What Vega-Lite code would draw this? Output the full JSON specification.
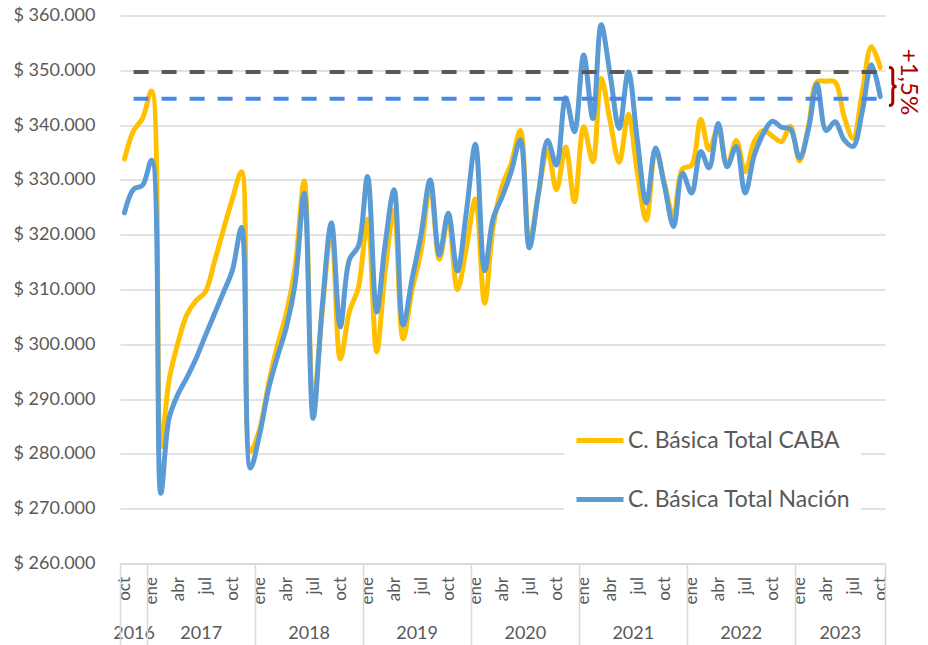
{
  "$schema": "https://vega.github.io/schema/vega-lite/v6.json",
  "width": 765,
  "height": 548,
  "autosize": {"type": "none"},
  "padding": {"left": 120, "top": 15.5, "right": 43, "bottom": 81.5},
  "background": "white",
  "config": {"view": {"stroke": null}, "font": "Lato"},
  "datasets": {
    "cbt": [
      {"fecha": "2016-10-16", "caba": 333800, "nacion": 324000},
      {"fecha": "2016-11-16", "caba": 339000, "nacion": 328300},
      {"fecha": "2016-12-16", "caba": 341200, "nacion": 329000},
      {"fecha": "2017-01-16", "caba": 346200, "nacion": 333600},
      {"fecha": "2017-02-16", "caba": 281300, "nacion": 272800},
      {"fecha": "2017-03-16", "caba": 293500, "nacion": 286500},
      {"fecha": "2017-04-16", "caba": 300500, "nacion": 291000},
      {"fecha": "2017-05-16", "caba": 305500, "nacion": 294000},
      {"fecha": "2017-06-16", "caba": 308000, "nacion": 297500},
      {"fecha": "2017-07-16", "caba": 309500, "nacion": 301500},
      {"fecha": "2017-08-16", "caba": 315000, "nacion": 305500},
      {"fecha": "2017-09-16", "caba": 321000, "nacion": 309500},
      {"fecha": "2017-10-16", "caba": 326500, "nacion": 313500},
      {"fecha": "2017-11-16", "caba": 331500, "nacion": 321300},
      {"fecha": "2017-12-16", "caba": 280500, "nacion": 277400},
      {"fecha": "2018-01-16", "caba": 284500, "nacion": 283500},
      {"fecha": "2018-02-16", "caba": 293000, "nacion": 292000},
      {"fecha": "2018-03-16", "caba": 299500, "nacion": 297500},
      {"fecha": "2018-04-16", "caba": 305500, "nacion": 303000},
      {"fecha": "2018-05-16", "caba": 314000, "nacion": 311000},
      {"fecha": "2018-06-16", "caba": 329800, "nacion": 327500},
      {"fecha": "2018-07-16", "caba": 289000, "nacion": 286500},
      {"fecha": "2018-08-16", "caba": 306000, "nacion": 307000},
      {"fecha": "2018-09-16", "caba": 321000, "nacion": 322200},
      {"fecha": "2018-10-16", "caba": 297300, "nacion": 303200},
      {"fecha": "2018-11-16", "caba": 306000, "nacion": 315500},
      {"fecha": "2018-12-16", "caba": 310300, "nacion": 317900},
      {"fecha": "2019-01-16", "caba": 322800, "nacion": 330600},
      {"fecha": "2019-02-16", "caba": 298600, "nacion": 305900},
      {"fecha": "2019-03-16", "caba": 313000, "nacion": 318000},
      {"fecha": "2019-04-16", "caba": 324500, "nacion": 328200},
      {"fecha": "2019-05-16", "caba": 301000, "nacion": 303500},
      {"fecha": "2019-06-16", "caba": 310000, "nacion": 312000},
      {"fecha": "2019-07-16", "caba": 317000, "nacion": 320000},
      {"fecha": "2019-08-16", "caba": 329000, "nacion": 330000},
      {"fecha": "2019-09-16", "caba": 315500, "nacion": 316300},
      {"fecha": "2019-10-16", "caba": 323000, "nacion": 323900},
      {"fecha": "2019-11-16", "caba": 310000, "nacion": 313400},
      {"fecha": "2019-12-16", "caba": 317500, "nacion": 324000},
      {"fecha": "2020-01-16", "caba": 326500, "nacion": 336500},
      {"fecha": "2020-02-16", "caba": 307500, "nacion": 313400},
      {"fecha": "2020-03-16", "caba": 321500, "nacion": 323000},
      {"fecha": "2020-04-16", "caba": 329000, "nacion": 327000},
      {"fecha": "2020-05-16", "caba": 333000, "nacion": 331500},
      {"fecha": "2020-06-16", "caba": 339000, "nacion": 337300},
      {"fecha": "2020-07-16", "caba": 318500, "nacion": 317600},
      {"fecha": "2020-08-16", "caba": 327500, "nacion": 327500},
      {"fecha": "2020-09-16", "caba": 335500, "nacion": 337200},
      {"fecha": "2020-10-16", "caba": 328200, "nacion": 332700},
      {"fecha": "2020-11-16", "caba": 336000, "nacion": 345000},
      {"fecha": "2020-12-16", "caba": 326000, "nacion": 338800},
      {"fecha": "2021-01-16", "caba": 339700, "nacion": 352800},
      {"fecha": "2021-02-16", "caba": 333300, "nacion": 341200},
      {"fecha": "2021-03-16", "caba": 348500, "nacion": 358300},
      {"fecha": "2021-04-16", "caba": 340600, "nacion": 349000},
      {"fecha": "2021-05-16", "caba": 333200, "nacion": 339400},
      {"fecha": "2021-06-16", "caba": 342000, "nacion": 349700},
      {"fecha": "2021-07-16", "caba": 331500, "nacion": 337500},
      {"fecha": "2021-08-16", "caba": 322700, "nacion": 325800},
      {"fecha": "2021-09-16", "caba": 335500, "nacion": 335800},
      {"fecha": "2021-10-16", "caba": 329400, "nacion": 329000},
      {"fecha": "2021-11-16", "caba": 323300, "nacion": 321500},
      {"fecha": "2021-12-16", "caba": 332000, "nacion": 331200},
      {"fecha": "2022-01-16", "caba": 332700, "nacion": 327600},
      {"fecha": "2022-02-16", "caba": 341000, "nacion": 335200},
      {"fecha": "2022-03-16", "caba": 335500, "nacion": 332200},
      {"fecha": "2022-04-16", "caba": 339500, "nacion": 340300},
      {"fecha": "2022-05-16", "caba": 332500, "nacion": 332400},
      {"fecha": "2022-06-16", "caba": 337200, "nacion": 336100},
      {"fecha": "2022-07-16", "caba": 331500, "nacion": 327600},
      {"fecha": "2022-08-16", "caba": 337000, "nacion": 334500},
      {"fecha": "2022-09-16", "caba": 339000, "nacion": 338500},
      {"fecha": "2022-10-16", "caba": 338000, "nacion": 340700},
      {"fecha": "2022-11-16", "caba": 337000, "nacion": 339600},
      {"fecha": "2022-12-16", "caba": 339800, "nacion": 339300},
      {"fecha": "2023-01-16", "caba": 333500, "nacion": 334000},
      {"fecha": "2023-02-16", "caba": 340000, "nacion": 339500},
      {"fecha": "2023-03-16", "caba": 347900, "nacion": 347500},
      {"fecha": "2023-04-16", "caba": 348000, "nacion": 339000},
      {"fecha": "2023-05-16", "caba": 347900, "nacion": 340600},
      {"fecha": "2023-06-16", "caba": 341500, "nacion": 337300},
      {"fecha": "2023-07-16", "caba": 337600, "nacion": 336100},
      {"fecha": "2023-08-16", "caba": 346000, "nacion": 342500},
      {"fecha": "2023-09-16", "caba": 354300, "nacion": 351000},
      {"fecha": "2023-10-16", "caba": 350500, "nacion": 345200}
    ],
    "ref": [
      {"serie": "caba", "desde": "2016-11-16", "hasta": "2023-10-16", "valor": 349700, "texto": "+1,5%"},
      {"serie": "nacion", "desde": "2016-11-16", "hasta": "2023-10-16", "valor": 344800, "texto": ""}
    ]
  },
  "resolve": {"axis": {"x": "independent"}},
  "layer": [
    {
      "data": {"name": "cbt"},
      "transform": [{"fold": ["caba", "nacion"], "as": ["serie", "valor"]}],
      "mark": {"type": "line", "interpolate": "catmull-rom", "strokeWidth": 5, "strokeCap": "round", "strokeJoin": "round"},
      "encoding": {
        "x": {
          "field": "fecha", "type": "temporal",
          "scale": {"type": "utc", "domain": [{"year": 2016, "month": 10, "date": 1, "utc": true}, {"year": 2023, "month": 11, "date": 1, "utc": true}]},
          "axis": {
            "orient": "bottom", "title": null, "grid": false, "ticks": false,
            "domain": true, "domainColor": "#D9D9D9", "domainWidth": 1.5,
            "values": [
              {"year": 2016, "month": 10, "date": 16, "utc": true},
              {"year": 2017, "month": 1, "date": 16, "utc": true}, {"year": 2017, "month": 4, "date": 16, "utc": true}, {"year": 2017, "month": 7, "date": 16, "utc": true}, {"year": 2017, "month": 10, "date": 16, "utc": true},
              {"year": 2018, "month": 1, "date": 16, "utc": true}, {"year": 2018, "month": 4, "date": 16, "utc": true}, {"year": 2018, "month": 7, "date": 16, "utc": true}, {"year": 2018, "month": 10, "date": 16, "utc": true},
              {"year": 2019, "month": 1, "date": 16, "utc": true}, {"year": 2019, "month": 4, "date": 16, "utc": true}, {"year": 2019, "month": 7, "date": 16, "utc": true}, {"year": 2019, "month": 10, "date": 16, "utc": true},
              {"year": 2020, "month": 1, "date": 16, "utc": true}, {"year": 2020, "month": 4, "date": 16, "utc": true}, {"year": 2020, "month": 7, "date": 16, "utc": true}, {"year": 2020, "month": 10, "date": 16, "utc": true},
              {"year": 2021, "month": 1, "date": 16, "utc": true}, {"year": 2021, "month": 4, "date": 16, "utc": true}, {"year": 2021, "month": 7, "date": 16, "utc": true}, {"year": 2021, "month": 10, "date": 16, "utc": true},
              {"year": 2022, "month": 1, "date": 16, "utc": true}, {"year": 2022, "month": 4, "date": 16, "utc": true}, {"year": 2022, "month": 7, "date": 16, "utc": true}, {"year": 2022, "month": 10, "date": 16, "utc": true},
              {"year": 2023, "month": 1, "date": 16, "utc": true}, {"year": 2023, "month": 4, "date": 16, "utc": true}, {"year": 2023, "month": 7, "date": 16, "utc": true}, {"year": 2023, "month": 10, "date": 16, "utc": true}
            ],
            "labelExpr": "['ene','feb','mar','abr','may','jun','jul','ago','sep','oct','nov','dic'][utcmonth(datum.value)]",
            "labelAngle": -90, "labelAlign": "right", "labelBaseline": "middle", "labelPadding": 13,
            "labelFontSize": 17, "labelColor": "#595959", "labelOverlap": false, "labelFlush": false, "labelBound": false
          }
        },
        "y": {
          "field": "valor", "type": "quantitative",
          "scale": {"domain": [260000, 360000], "nice": false, "zero": false},
          "axis": {
            "title": null, "values": [260000, 270000, 280000, 290000, 300000, 310000, 320000, 330000, 340000, 350000, 360000],
            "labelExpr": "'$ ' + replace(format(datum.value, ',.0f'), ',', '.')",
            "grid": true, "gridColor": "#D9D9D9", "gridWidth": 1.5, "domain": false, "ticks": false,
            "labelPadding": 25, "labelFontSize": 18, "labelColor": "#595959", "labelFlush": false
          }
        },
        "color": {
          "field": "serie", "type": "nominal",
          "scale": {"domain": ["caba", "nacion"], "range": ["#FFC000", "#5B9BD5"]},
          "legend": {
            "orient": "none", "legendX": 444, "legendY": 389, "title": null,
            "labelExpr": "datum.value == 'caba' ? 'C. Básica Total CABA' : 'C. Básica Total Nación'",
            "symbolType": "stroke", "symbolSize": 2209, "symbolStrokeWidth": 5,
            "labelFontSize": 23, "labelColor": "#595959", "labelOffset": 2, "rowPadding": 21,
            "fillColor": "white", "padding": 10, "labelLimit": 400
          }
        }
      }
    },
    {
      "data": {"name": "ref"},
      "transform": [{"filter": "datum.serie == 'caba'"}],
      "mark": {"type": "rule", "color": "#595959", "strokeWidth": 4, "strokeDash": [15, 13]},
      "encoding": {
        "x": {
          "field": "desde", "type": "temporal",
          "scale": {"type": "utc", "domain": [{"year": 2016, "month": 10, "date": 1, "utc": true}, {"year": 2023, "month": 11, "date": 1, "utc": true}]},
          "axis": {
            "orient": "bottom", "title": null, "grid": false, "ticks": false, "domain": false,
            "values": [
              {"year": 2016, "month": 11, "date": 16, "utc": true},
              {"year": 2017, "month": 7, "date": 1, "utc": true},
              {"year": 2018, "month": 7, "date": 1, "utc": true},
              {"year": 2019, "month": 7, "date": 1, "utc": true},
              {"year": 2020, "month": 7, "date": 1, "utc": true},
              {"year": 2021, "month": 7, "date": 1, "utc": true},
              {"year": 2022, "month": 7, "date": 1, "utc": true},
              {"year": 2023, "month": 6, "date": 1, "utc": true}
            ],
            "labelExpr": "utcFormat(datum.value, '%Y')",
            "labelAngle": 0, "labelAlign": "center", "labelBaseline": "middle", "labelPadding": 70,
            "labelFontSize": 18, "labelColor": "#595959", "labelOverlap": false, "labelFlush": false
          }
        },
        "x2": {"field": "hasta"},
        "y": {"field": "valor", "type": "quantitative"}
      }
    },
    {
      "data": {"name": "ref"},
      "transform": [{"filter": "datum.serie == 'nacion'"}],
      "mark": {"type": "rule", "color": "#4A86E8", "strokeWidth": 4, "strokeDash": [15, 13]},
      "encoding": {
        "x": {
          "field": "desde", "type": "temporal",
          "scale": {"type": "utc", "domain": [{"year": 2016, "month": 10, "date": 1, "utc": true}, {"year": 2023, "month": 11, "date": 1, "utc": true}]},
          "axis": {
            "orient": "bottom", "title": null, "grid": false, "labels": false, "domain": false,
            "ticks": true, "tickSize": 81, "tickColor": "#D9D9D9", "tickWidth": 1.5,
            "values": [
              {"year": 2016, "month": 10, "date": 1, "utc": true},
              {"year": 2017, "month": 1, "date": 1, "utc": true},
              {"year": 2018, "month": 1, "date": 1, "utc": true},
              {"year": 2019, "month": 1, "date": 1, "utc": true},
              {"year": 2020, "month": 1, "date": 1, "utc": true},
              {"year": 2021, "month": 1, "date": 1, "utc": true},
              {"year": 2022, "month": 1, "date": 1, "utc": true},
              {"year": 2023, "month": 1, "date": 1, "utc": true},
              {"year": 2023, "month": 11, "date": 1, "utc": true}
            ]
          }
        },
        "x2": {"field": "hasta"},
        "y": {"field": "valor", "type": "quantitative"}
      }
    },
    {
      "data": {"name": "ref"},
      "transform": [{"filter": "datum.serie == 'caba'"}],
      "mark": {"type": "text", "angle": 90, "align": "center", "baseline": "alphabetic", "fontSize": 24, "color": "#A50000", "dx": 10, "dy": -21},
      "encoding": {
        "x": {"field": "hasta", "type": "temporal", "scale": {"type": "utc", "domain": [{"year": 2016, "month": 10, "date": 1, "utc": true}, {"year": 2023, "month": 11, "date": 1, "utc": true}]}, "axis": null},
        "y": {"field": "valor", "type": "quantitative"},
        "text": {"field": "texto"}
      }
    },
    {
      "data": {"name": "ref"},
      "transform": [{"filter": "datum.serie == 'caba'"}],
      "mark": {
        "type": "point", "filled": false, "color": "#A50000", "strokeWidth": 3, "opacity": 1, "size": 1444,
        "shape": "M-0.2,-1 C-0.05,-1 0,-0.95 0,-0.8 L0,-0.2 C0,-0.07 0.07,0 0.2,0 C0.07,0 0,0.07 0,0.2 L0,0.8 C0,0.95 -0.05,1 -0.2,1",
        "xOffset": 12.5, "yOffset": 14.5
      },
      "encoding": {
        "x": {"field": "hasta", "type": "temporal", "scale": {"type": "utc", "domain": [{"year": 2016, "month": 10, "date": 1, "utc": true}, {"year": 2023, "month": 11, "date": 1, "utc": true}]}, "axis": null},
        "y": {"field": "valor", "type": "quantitative"}
      }
    }
  ]
}
